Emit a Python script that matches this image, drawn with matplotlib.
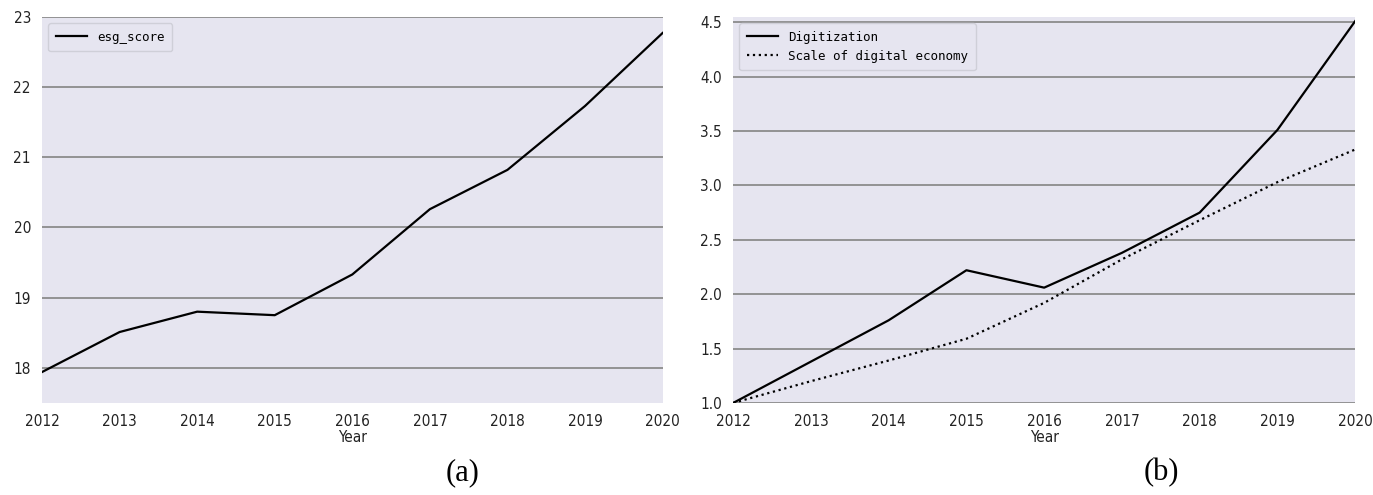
import matplotlib
matplotlib.use("Agg")
import matplotlib.pyplot as plt

# Data
years = [2012, 2013, 2014, 2015, 2016, 2017, 2018, 2019, 2020]
esg_score = [17.94, 18.51, 18.80, 18.75, 19.33, 20.26, 20.82, 21.73, 22.77]
digitization = [1.00, 1.38, 1.76, 2.22, 2.06, 2.38, 2.75, 3.51, 4.51]
digital_scale = [1.00, 1.20, 1.39, 1.59, 1.92, 2.32, 2.68, 3.03, 3.33]

bg = '#e6e5f0'
legend_font = 'DejaVu Sans Mono'


def style_axis(ax):
    ax.set_facecolor(bg)
    for s in ax.spines.values():
        s.set_visible(False)
    ax.yaxis.grid(True, color='#8c8c8c', linewidth=1.3)
    ax.xaxis.grid(False)
    ax.set_axisbelow(True)
    ax.tick_params(length=0, labelsize=11, colors='#222222', pad=8)
    ax.set_xlim(2012, 2020)
    ax.set_xticks(years)
    for lab in ax.get_xticklabels() + ax.get_yticklabels():
        lab.set_family('DejaVu Sans')
        lab.set_stretch('condensed')
    ax.set_xlabel('Year', fontsize=11, family='DejaVu Sans', stretch='condensed',
                  color='#222222', labelpad=1)


fig = plt.figure(figsize=(13.73, 4.95), dpi=100)

# (a) esg score
ax1 = fig.add_axes([0.0306, 0.186, 0.452, 0.780])
ax1.plot(years, esg_score, color='black', linewidth=1.6, label='esg_score')
ax1.set_ylim(17.5, 23.0)
ax1.set_yticks([18, 19, 20, 21, 22, 23])
style_axis(ax1)
ax1.legend(loc='upper left', prop={'family': legend_font, 'size': 9},
           facecolor=bg, edgecolor='#cfcfd8', framealpha=1, fancybox=True,
           handlelength=2.5, borderpad=0.6)

# (b) digitization
ax2 = fig.add_axes([0.534, 0.186, 0.453, 0.780])
ax2.plot(years, digitization, color='black', linewidth=1.6, label='Digitization')
ax2.plot(years, digital_scale, color='black', linewidth=1.6, linestyle=':',
         label='Scale of digital economy')
ax2.set_ylim(1.0, 4.55)
ax2.set_yticks([1.0, 1.5, 2.0, 2.5, 3.0, 3.5, 4.0, 4.5])
style_axis(ax2)
ax2.legend(loc='upper left', prop={'family': legend_font, 'size': 9},
           facecolor=bg, edgecolor='#cfcfd8', framealpha=1, fancybox=True,
           handlelength=2.5, borderpad=0.6)

# panel captions
fig.text(0.337, 0.03, '(a)', fontsize=22, family='Liberation Serif', ha='center')
fig.text(0.846, 0.03, '(b)', fontsize=22, family='Liberation Serif', ha='center')

fig.savefig('out.png', dpi=100, facecolor='white')
